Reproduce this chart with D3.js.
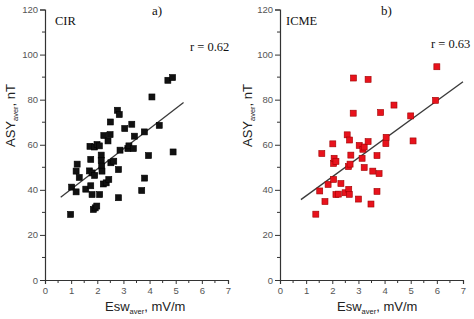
<!DOCTYPE html>
<html><head><meta charset="utf-8">
<script src="https://cdn.jsdelivr.net/npm/d3@7/dist/d3.min.js"></script>
<style>body{margin:0;background:#fff}svg{display:block}</style>
</head><body>
<svg id="c" width="474" height="319"></svg>
<script>
// ---- data ----
const xTicks = [0,1,2,3,4,5,6,7];
const yTicks = [0,20,40,60,80,100,120];

const cirX = [0.98,1.02,1.19,1.19,1.23,1.31,1.56,1.70,1.72,1.75,1.75,1.80,1.80,1.85,1.92,1.98,1.90,1.89,1.99,2.08,2.09,2.15,2.15,2.17,2.18,2.23,2.34,2.44,2.52,2.63,2.81,2.81,2.25,2.41,2.49,2.50,2.77,2.84,2.87,3.05,3.17,3.21,3.32,3.38,3.42,3.70,3.81,3.80,3.96,4.09,4.37,4.70,4.88,4.90];
const cirY = [29.1,41.2,39.1,48.3,51.4,45.5,40.3,48.4,59.3,53.5,41.8,47.5,37.9,31.3,32.0,32.8,46.4,59.0,60.1,59.5,37.9,55.4,53.1,50.5,48.3,42.6,43.1,44.6,52.0,52.7,49.0,36.5,64.1,61.7,64.5,70.1,75.3,73.4,57.6,67.2,58.3,59.5,69.1,58.3,63.8,39.7,45.2,65.7,55.2,81.2,68.6,88.6,89.8,56.8];

const icmeX = [1.37,1.52,1.60,1.72,1.84,2.02,2.05,2.05,2.07,2.14,2.14,2.23,2.33,2.49,2.57,2.62,2.63,2.65,2.66,2.68,2.71,2.80,2.81,3.00,3.03,3.14,3.17,3.22,3.22,3.37,3.37,3.48,3.55,3.71,3.71,3.79,3.85,4.05,4.06,4.36,5.00,5.09,5.95,6.00];
const icmeY = [29.2,39.5,56.1,34.8,42.4,60.4,44.6,51.7,54.0,52.6,37.9,38.1,42.8,38.7,64.4,50.3,40.2,38.0,62.1,51.4,55.4,74.0,89.6,35.9,59.7,54.0,58.0,59.0,49.9,89.0,61.4,33.7,48.3,55.2,39.3,47.2,74.3,60.5,63.3,77.6,72.8,61.7,79.7,94.6];

// regression lines: [x start, x end], slope, intercept
const cirFit = {x:[0.6,5.3], slope:8.95, intercept:31.3};
const icmeFit = {x:[0.8,7.0], slope:8.44, intercept:28.9};

const panels = [
  {left:45, right:228, tag:"a)", name:"CIR", r:"r = 0.62", xs:cirX, ys:cirY, fit:cirFit,
   fill:"#111", stroke:"#000", tagX:152, nameX:55, rX:190, rY:51, yLabX:10, xLabX:105},
  {left:280, right:463, tag:"b)", name:"ICME", r:"r = 0.63", xs:icmeX, ys:icmeY, fit:icmeFit,
   fill:"#e8121c", stroke:"#a00000", tagX:381, nameX:286, rX:431, rY:48, yLabX:247, xLabX:337}
];

const svg = d3.select("#c");
svg.append("rect").attr("width",474).attr("height",319).attr("fill","#fff");
const plotTop = 9.5, plotBottom = 280;

panels.forEach(p => {
  const x = d3.scaleLinear().domain([0,7]).range([p.left,p.right]);
  const y = d3.scaleLinear().domain([0,120]).range([plotBottom,plotTop]);
  const g = svg.append("g");

  // minor ticks
  const xMinor = d3.range(0.5,7,1);
  const yMinor = d3.range(10,120,20);
  g.selectAll(".xm").data(xMinor).join("line")
    .attr("x1",d=>x(d)).attr("x2",d=>x(d)).attr("y1",plotBottom).attr("y2",plotBottom+3)
    .attr("stroke","#333").attr("stroke-width",1);
  g.selectAll(".ym").data(yMinor).join("line")
    .attr("y1",d=>y(d)).attr("y2",d=>y(d)).attr("x1",p.left).attr("x2",p.left-3)
    .attr("stroke","#333").attr("stroke-width",1);

  const xAxis = d3.axisBottom(x).tickValues(xTicks).tickSize(4).tickPadding(3).tickFormat(d3.format("d"));
  const yAxis = d3.axisLeft(y).tickValues(yTicks).tickSize(5).tickPadding(2).tickFormat(d3.format("d"));
  const gx = g.append("g").attr("transform",`translate(0,${plotBottom})`).call(xAxis);
  const gy = g.append("g").attr("transform",`translate(${p.left},0)`).call(yAxis);
  [gx,gy].forEach(a=>{
    a.select(".domain").attr("stroke","#333").attr("stroke-width",1.2);
    a.selectAll(".tick line").attr("stroke","#333");
    a.selectAll("text").attr("font-family","Liberation Sans, Arial, sans-serif")
      .attr("font-size",9.5).attr("fill","#555");
  });

  // regression line
  g.append("line")
    .attr("x1",x(p.fit.x[0])).attr("y1",y(p.fit.intercept+p.fit.slope*p.fit.x[0]))
    .attr("x2",x(p.fit.x[1])).attr("y2",y(p.fit.intercept+p.fit.slope*p.fit.x[1]))
    .attr("stroke","#3a3a3a").attr("stroke-width",1.3);

  // markers
  const s = 6;
  g.selectAll(".pt").data(p.xs.map((v,i)=>[v,p.ys[i]])).join("rect")
    .attr("x",d=>x(d[0])-s/2).attr("y",d=>y(d[1])-s/2)
    .attr("width",s).attr("height",s)
    .attr("fill",p.fill).attr("stroke",p.stroke).attr("stroke-width",0.6);

  // texts
  const serif = "Liberation Serif, Times New Roman, serif";
  g.append("text").attr("x",p.tagX).attr("y",15).attr("font-family",serif)
    .attr("font-size",13).attr("fill","#111").text(p.tag);
  g.append("text").attr("x",p.nameX).attr("y",25).attr("font-family",serif)
    .attr("font-size",12.5).attr("fill","#111").text(p.name);
  g.append("text").attr("x",p.rX).attr("y",p.rY).attr("font-family",serif)
    .attr("font-size",12.5).attr("fill","#111").text(p.r);

  const sans = "Liberation Sans, Arial, sans-serif";
  // x label
  const xl = g.append("text").attr("x",p.xLabX).attr("y",311).attr("font-family",sans)
    .attr("font-size",13).attr("fill","#222");
  xl.append("tspan").text("Esw");
  xl.append("tspan").attr("font-size",7.5).attr("dy",3).text("aver");
  xl.append("tspan").attr("dy",-3).text(", mV/m");

  // y label
  const yl = g.append("text").attr("transform",`translate(${p.yLabX+5},${147}) rotate(-90)`)
    .attr("font-family",sans).attr("font-size",13).attr("fill","#222");
  yl.append("tspan").text("ASY");
  yl.append("tspan").attr("font-size",7.5).attr("dy",3).text("aver");
  yl.append("tspan").attr("dy",-3).text(", nT");
});
</script>
</body></html>
